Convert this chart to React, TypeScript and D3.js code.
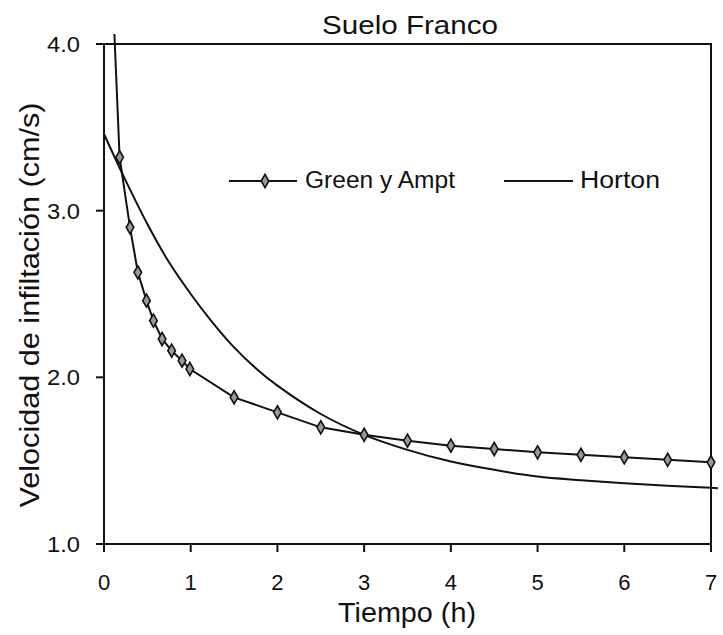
import React from "react";
import * as d3 from "d3";

const title = "Suelo Franco";
const xLabel = "Tiempo (h)";
const yLabel = "Velocidad de infiltación (cm/s)";
const xTicks = [0, 1, 2, 3, 4, 5, 6, 7];
const yTicks = [1, 2, 3, 4];
const yTickLabels = ["1.0", "2.0", "3.0", "4.0"];

const gaTime = [0.12, 0.18, 0.3, 0.39, 0.49, 0.57, 0.67, 0.78, 0.9, 0.99, 1.5, 2.0, 2.5, 3.0, 3.5, 4.0, 4.5, 5.0, 5.5, 6.0, 6.5, 7.0];
const gaRate = [4.06, 3.32, 2.9, 2.63, 2.46, 2.34, 2.23, 2.16, 2.1, 2.05, 1.88, 1.79, 1.7, 1.655, 1.62, 1.59, 1.57, 1.55, 1.535, 1.52, 1.505, 1.49];
const gaMarked = [false, true, true, true, true, true, true, true, true, true, true, true, true, true, true, true, true, true, true, true, true, true];

const hortonTime = [0, 0.25, 0.5, 0.75, 1.0, 1.25, 1.5, 1.75, 2.0, 2.5, 3.0, 3.5, 4.0, 4.5, 5.0, 5.5, 6.0, 6.5, 7.0, 7.08];
const hortonRate = [3.46, 3.18, 2.92, 2.69, 2.5, 2.33, 2.18, 2.055, 1.95, 1.78, 1.655, 1.565, 1.495, 1.445, 1.405, 1.383, 1.365, 1.35, 1.337, 1.334];

const legendNames = ["Green y Ampt", "Horton"];

const W = 723;
const H = 635;
const L = 104, R = 711, T = 44, B = 544;
const FONT = "'Liberation Sans', Arial, sans-serif";
const INK = "#111";

export default function App() {
  const x = d3.scaleLinear().domain([0, 7]).range([L, R]);
  const y = d3.scaleLinear().domain([1, 4]).range([B, T]);

  const ga = gaTime.map((t, i) => ({ t, v: gaRate[i], m: gaMarked[i] }));
  const ho = hortonTime.map((t, i) => ({ t, v: hortonRate[i] }));

  const gaLine = d3.line<any>().x(d => x(d.t)).y(d => y(d.v)).curve(d3.curveLinear);
  const hoLine = d3.line<any>().x(d => x(d.t)).y(d => y(d.v)).curve(d3.curveCatmullRom.alpha(0.5));
  const diamond = d3.symbol().type(d3.symbolDiamond).size(50)();

  return (
    <svg width={W} height={H} style={{ position: "absolute", left: 0, top: 0, background: "#fff" }}>
      <rect x={0} y={0} width={W} height={H} fill="#fff" />
      {/* title */}
      <text x={410} y={34} textAnchor="middle" fontFamily={FONT} fontSize={26} fill={INK}
        textLength={176} lengthAdjust="spacingAndGlyphs">{title}</text>

      {/* frame */}
      <rect x={L} y={T} width={R - L} height={B - T} fill="none" stroke={INK} strokeWidth={2} />

      {/* y ticks */}
      {yTicks.map((v, i) => (
        <g key={"y" + v}>
          <line x1={L - 8} x2={L} y1={y(v)} y2={y(v)} stroke={INK} strokeWidth={2} />
          <text x={80} y={y(v)} dy="0.36em" textAnchor="end" fontFamily={FONT} fontSize={22} fill={INK}
            textLength={33} lengthAdjust="spacingAndGlyphs">{yTickLabels[i]}</text>
        </g>
      ))}
      {/* x ticks */}
      {xTicks.map(v => (
        <g key={"x" + v}>
          <line x1={x(v)} x2={x(v)} y1={B} y2={B + 8} stroke={INK} strokeWidth={2} />
          <text x={x(v)} y={590} textAnchor="middle" fontFamily={FONT} fontSize={22} fill={INK}>{v}</text>
        </g>
      ))}

      {/* axis labels */}
      <text x={407} y={622} textAnchor="middle" fontFamily={FONT} fontSize={27} fill={INK}
        textLength={138} lengthAdjust="spacingAndGlyphs">{xLabel}</text>
      <text transform={`translate(39,305) rotate(-90)`} textAnchor="middle" fontFamily={FONT} fontSize={27} fill={INK}
        textLength={405} lengthAdjust="spacingAndGlyphs">{yLabel}</text>

      {/* series */}
      <path d={hoLine(ho) || ""} fill="none" stroke={INK} strokeWidth={2} />
      <path d={gaLine(ga) || ""} fill="none" stroke={INK} strokeWidth={2} />
      {ga.filter(d => d.m).map((d, i) => (
        <path key={"m" + i} d={diamond || ""} transform={`translate(${x(d.t)},${y(d.v)})`}
          fill="#999" stroke={INK} strokeWidth={1.6} />
      ))}

      {/* legend */}
      <g>
        <line x1={229} x2={297} y1={181} y2={181} stroke={INK} strokeWidth={2} />
        <path d={diamond || ""} transform="translate(265,181)" fill="#999" stroke={INK} strokeWidth={1.6} />
        <text x={305} y={188} fontFamily={FONT} fontSize={23} fill={INK}
          textLength={150} lengthAdjust="spacingAndGlyphs">{legendNames[0]}</text>
        <line x1={504} x2={573} y1={181} y2={181} stroke={INK} strokeWidth={2} />
        <text x={580} y={188} fontFamily={FONT} fontSize={23} fill={INK}
          textLength={80} lengthAdjust="spacingAndGlyphs">{legendNames[1]}</text>
      </g>
    </svg>
  );
}
